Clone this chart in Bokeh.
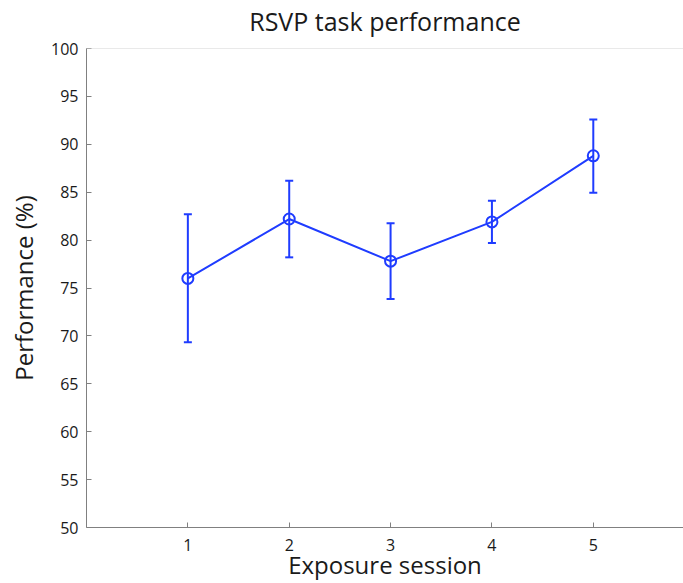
from bokeh.plotting import figure
from bokeh.models import ColumnDataSource, Whisker, TeeHead, Span, FixedTicker, LinearAxis
from bokeh.embed import file_html
from bokeh.resources import INLINE

sessions = [1, 2, 3, 4, 5]
performance = [76.0, 82.2, 77.8, 81.9, 88.8]
err_upper = [82.7, 86.2, 81.75, 84.1, 92.6]
err_lower = [69.35, 78.2, 73.85, 79.7, 84.95]
y_ticks = [50, 55, 60, 65, 70, 75, 80, 85, 90, 95, 100]
title_text = "RSVP task performance"
x_label = "Exposure session"
y_label = "Performance (%)"

BLUE = "#1f3cff"
FONT = "Open Sans"
TEXT = "#1a1a1a"

src = ColumnDataSource(dict(x=sessions, y=performance, upper=err_upper, lower=err_lower))

p = figure(width=683, height=583, x_range=(0, 5.89), y_range=(50, 100),
           output_backend="svg", toolbar_location=None,
           min_border_left=86, min_border_right=0, min_border_top=47, min_border_bottom=56)

p.outline_line_color = None
p.xgrid.grid_line_color = None
p.ygrid.grid_line_color = None
p.add_layout(Span(location=100, dimension="width", line_color="#d4d4d4", line_width=1))

for ax in (p.xaxis, p.yaxis):
    ax.axis_line_color = "#808080"
    ax.major_tick_line_color = "#808080"
    ax.major_tick_in = 5
    ax.major_tick_out = 0
    ax.minor_tick_line_color = None
    ax.major_label_text_font = FONT
    ax.major_label_text_font_size = "16px"
    ax.major_label_text_color = TEXT
    ax.axis_label_text_font = FONT
    ax.axis_label_text_font_size = "24px"
    ax.axis_label_text_font_style = "normal"
    ax.axis_label_text_color = TEXT

p.xaxis.ticker = FixedTicker(ticks=sessions)
p.yaxis.ticker = FixedTicker(ticks=y_ticks)
p.xaxis.axis_label = x_label
p.yaxis.axis_label = y_label
p.xaxis.major_label_standoff = 11
p.xaxis.axis_label_standoff = -6
p.yaxis.major_label_standoff = 8
p.yaxis.axis_label_standoff = 8

# title drawn as the label of a bare axis above the frame
top = LinearAxis(ticker=FixedTicker(ticks=[]), axis_label=title_text,
                 axis_line_color=None, major_tick_line_color=None, minor_tick_line_color=None,
                 major_label_text_font_size="0px", major_label_standoff=0,
                 axis_label_standoff=11, axis_label_text_font=FONT,
                 axis_label_text_font_size="25px", axis_label_text_font_style="normal",
                 axis_label_text_color=TEXT)
p.add_layout(top, "above")

p.add_layout(Whisker(source=src, base="x", upper="upper", lower="lower",
                     line_color=BLUE, line_width=2,
                     upper_head=TeeHead(size=8, line_color=BLUE, line_width=2),
                     lower_head=TeeHead(size=8, line_color=BLUE, line_width=2)))
p.line("x", "y", source=src, line_color=BLUE, line_width=2)
p.scatter("x", "y", source=src, marker="circle", size=11, fill_color=None,
          line_color=BLUE, line_width=2)

open("out.html", "w").write(file_html(p, INLINE))
